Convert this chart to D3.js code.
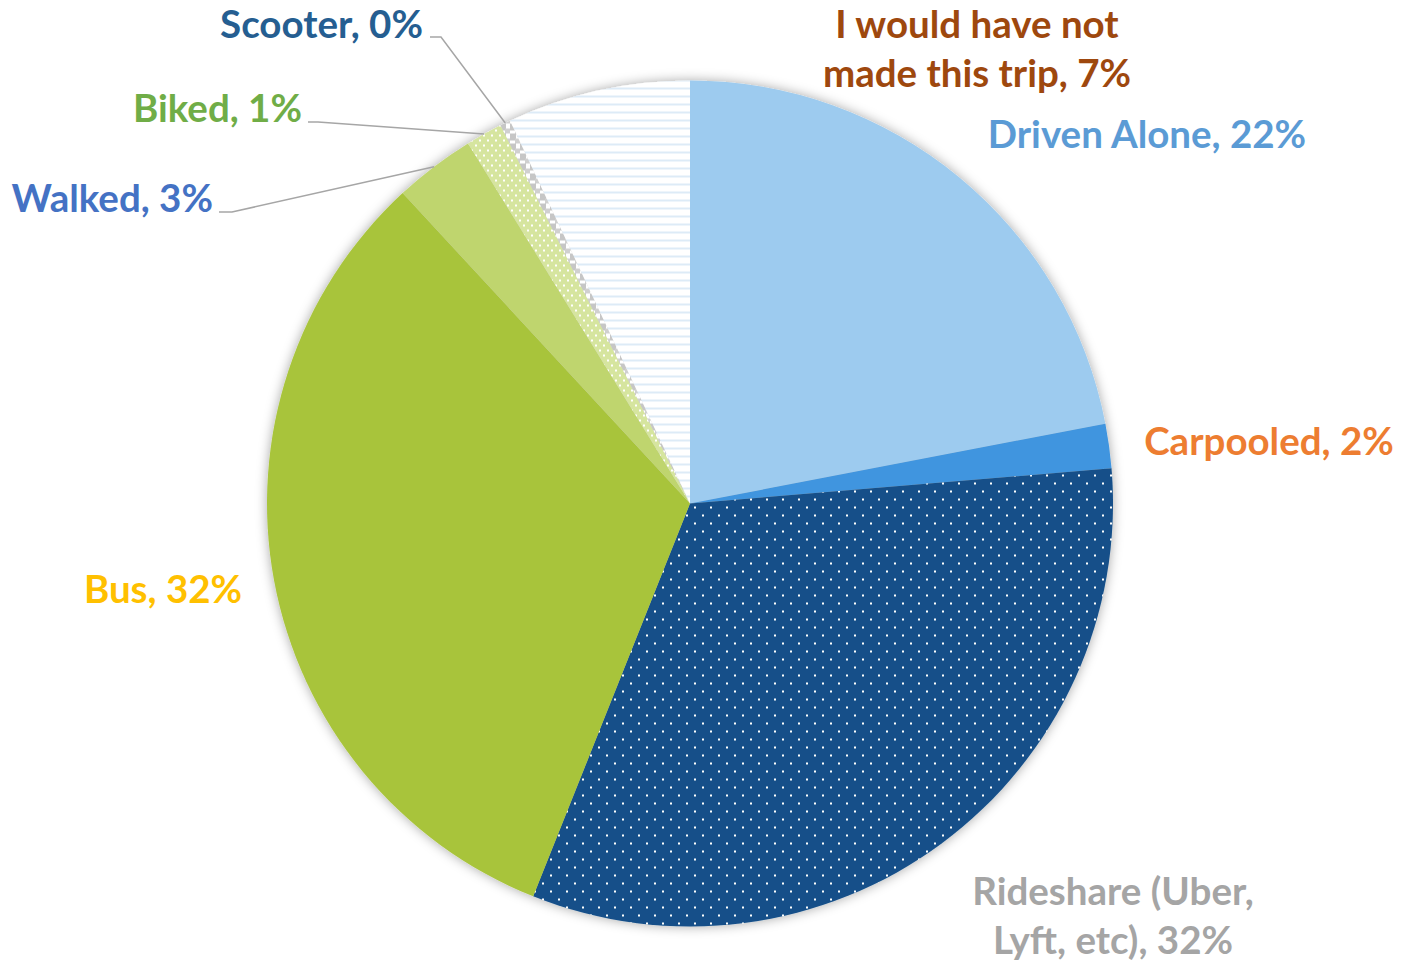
<!DOCTYPE html>
<html>
<head>
<meta charset="utf-8">
<script src="https://cdn.jsdelivr.net/npm/d3@7"></script>
<style>
  html, body { margin: 0; padding: 0; background: #fff; }
  #chart { width: 1402px; height: 964px; }
  text { font-family: Lato, "Open Sans", sans-serif; font-weight: 700; }
</style>
</head>
<body>
<div id="chart"></div>
<script>
(function () {
  // modes, in the order they go round the pie (clockwise from 12 o'clock)
  const modes = ["Driven Alone", "Carpooled", "Rideshare (Uber, Lyft, etc)", "Bus", "Walked", "Biked", "Scooter", "I would have not made this trip"]
  // share of answers
  const shares = [22.0, 1.7, 32.4, 32.1, 3.1, 1.4, 0.4, 7.0]
  // what the labels print
  const shareLabels = ["22%", "2%", "32%", "32%", "3%", "1%", "0%", "7%"]

  const labelLines = [
    ["Driven Alone, 22%"],
    ["Carpooled, 2%"],
    ["Rideshare (Uber,", "Lyft, etc), 32%"],
    ["Bus, 32%"],
    ["Walked, 3%"],
    ["Biked, 1%"],
    ["Scooter, 0%"],
    ["I would have not", "made this trip, 7%"]
  ]

  const fills = ["#9DCBEF", "#3F95DF", "url(#dotsNavy)", "#A8C43A", "#BFD56E", "url(#dotsGreen)", "url(#scoot)", "url(#hlines)"]
  const labelColors = ["#5B9BD5", "#ED7D31", "#A5A5A5", "#FFC000", "#4472C4", "#70AD47", "#255E91", "#9E480E"]

  // label placement: x, first baseline, anchor, leader line start (null = no leader)
  const labelPos = [
    { x: 1147, y: 148, anchor: "middle" },
    { x: 1269, y: 455, anchor: "middle" },
    { x: 1113, y: 905, anchor: "middle" },
    { x: 163, y: 603, anchor: "middle" },
    { x: 213, y: 212, anchor: "end", leader: [[219, 212], [232, 212]] },
    { x: 302, y: 122, anchor: "end", leader: [[308, 122], [318, 122]] },
    { x: 423, y: 38, anchor: "end", leader: [[430, 37], [441, 37]] },
    { x: 977, y: 38, anchor: "middle" }
  ]

  const width = 1402
  const height = 964
  const cx = 690
  const cy = 503.5
  const radius = 423
  const lineHeight = 49

  const svg = d3.select('#chart').append('svg')
    .attr('width', width)
    .attr('height', height)
    .attr('viewBox', [0, 0, width, height])

  const defs = svg.append('defs')

  const shadow = defs.append('filter')
    .attr('id', 'shadow')
    .attr('x', '-10%').attr('y', '-10%')
    .attr('width', '120%').attr('height', '120%')
  shadow.append('feDropShadow')
    .attr('dx', 0).attr('dy', 0)
    .attr('stdDeviation', 6)
    .attr('flood-color', '#000')
    .attr('flood-opacity', 0.35)

  const navy = defs.append('pattern')
    .attr('id', 'dotsNavy')
    .attr('patternUnits', 'userSpaceOnUse')
    .attr('width', 16).attr('height', 16)
  navy.append('rect').attr('width', 16).attr('height', 16).attr('fill', '#165089')
  navy.append('rect').attr('x', 4).attr('y', 3).attr('width', 2).attr('height', 2).attr('fill', '#fff')
  navy.append('rect').attr('x', 12).attr('y', 11).attr('width', 2).attr('height', 2).attr('fill', '#fff')

  const green = defs.append('pattern')
    .attr('id', 'dotsGreen')
    .attr('patternUnits', 'userSpaceOnUse')
    .attr('width', 8).attr('height', 10)
  green.append('rect').attr('width', 8).attr('height', 10).attr('fill', '#D6E59F')
  green.append('rect').attr('x', 1).attr('y', 1).attr('width', 2).attr('height', 2).attr('fill', '#fff')
  green.append('rect').attr('x', 5).attr('y', 6).attr('width', 2).attr('height', 2).attr('fill', '#fff')

  const scoot = defs.append('pattern')
    .attr('id', 'scoot')
    .attr('patternUnits', 'userSpaceOnUse')
    .attr('width', 10).attr('height', 10)
  scoot.append('rect').attr('width', 10).attr('height', 10).attr('fill', '#fff')
  scoot.append('rect').attr('x', 0).attr('y', 0).attr('width', 6).attr('height', 7).attr('fill', '#C6C6C6')
  scoot.append('rect').attr('x', 5).attr('y', 5).attr('width', 5).attr('height', 5).attr('fill', '#D0D0D0')

  const hl = defs.append('pattern')
    .attr('id', 'hlines')
    .attr('patternUnits', 'userSpaceOnUse')
    .attr('width', 8).attr('height', 8)
  hl.append('rect').attr('width', 8).attr('height', 8).attr('fill', '#fff')
  hl.append('rect').attr('x', 0).attr('y', 0).attr('width', 8).attr('height', 2).attr('fill', '#DDEBF7')

  const pie = d3.pie().sort(null).value(function (d) { return d })
  const arcs = pie(shares)
  const arc = d3.arc().innerRadius(0).outerRadius(radius)

  const g = svg.append('g').attr('transform', `translate(${cx},${cy})`)

  g.append('g')
    .attr('filter', 'url(#shadow)')
    .selectAll('path')
    .data(arcs)
    .join('path')
      .attr('d', arc)
      .attr('fill', function (d, i) { return fills[i] })

  // leader lines from the label to the rim of its slice
  arcs.forEach(function (d, i) {
    const p = labelPos[i]
    if (!p.leader) return
    const mid = (d.startAngle + d.endAngle) / 2
    const end = [cx + radius * Math.sin(mid), cy - radius * Math.cos(mid)]
    svg.append('polyline')
      .attr('points', p.leader.concat([end]).map(function (pt) { return pt.join(',') }).join(' '))
      .attr('fill', 'none')
      .attr('stroke', '#A6A6A6')
      .attr('stroke-width', 1.5)
  })

  labelLines.forEach(function (lines, i) {
    const p = labelPos[i]
    const t = svg.append('text')
      .attr('x', p.x)
      .attr('y', p.y)
      .attr('text-anchor', p.anchor)
      .attr('fill', labelColors[i])
      .attr('font-size', 38.5)
    lines.forEach(function (line, k) {
      t.append('tspan').attr('x', p.x).attr('dy', k === 0 ? 0 : lineHeight).text(line)
    })
  })
})();
</script>
</body>
</html>
